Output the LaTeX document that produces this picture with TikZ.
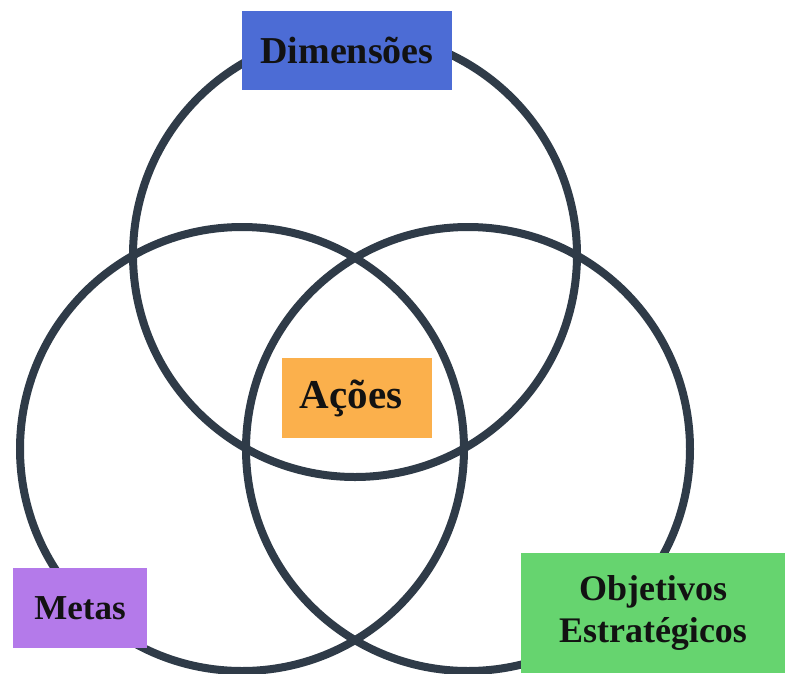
\documentclass[tikz,border=0pt]{standalone}
\usepackage{fontspec}
\setmainfont{Liberation Serif}
\definecolor{ringcol}{HTML}{2F3B48}
\definecolor{bluebox}{HTML}{4C6CD5}
\definecolor{purplebox}{HTML}{B47AEA}
\definecolor{greenbox}{HTML}{66D46F}
\definecolor{orangebox}{HTML}{FBB04C}
\definecolor{txt}{HTML}{121212}
\tikzset{
  ring/.style={circle, draw=ringcol, line width=8pt, minimum size=444pt, inner sep=0pt},
  labelbox/.style={rectangle, inner sep=0pt, align=center, text=txt,
    font=\bfseries\fontsize{35}{42}\selectfont},
}
\begin{document}
\begin{tikzpicture}[x=1pt,y=-1pt]
\useasboundingbox (0,0) rectangle (787,673);
\fill[white] (0,0) rectangle (787,673);
\node[ring] (top) at (355,255) {};
\node[ring] (left) at (242,449) {};
\node[ring] (right) at (468,449) {};
\node[labelbox, fill=bluebox, minimum width=210pt, minimum height=79pt, font=\bfseries\fontsize{38}{44}\selectfont] (dim) at (347,50.5) {Dimensões};
\node[labelbox, fill=purplebox, minimum width=134pt, minimum height=80pt] (metas) at (80,608) {Metas};
\node[labelbox, fill=orangebox, minimum width=150pt, minimum height=80pt, font=\bfseries\fontsize{41}{46}\selectfont] (acoes) at (357,398) {Ações\hspace{12pt}};
\node[labelbox, fill=greenbox, minimum width=264pt, minimum height=120pt, font=\bfseries\fontsize{36}{42}\selectfont] (obj) at (653,613) {Objetivos\\Estratégicos};
\end{tikzpicture}
\end{document}
